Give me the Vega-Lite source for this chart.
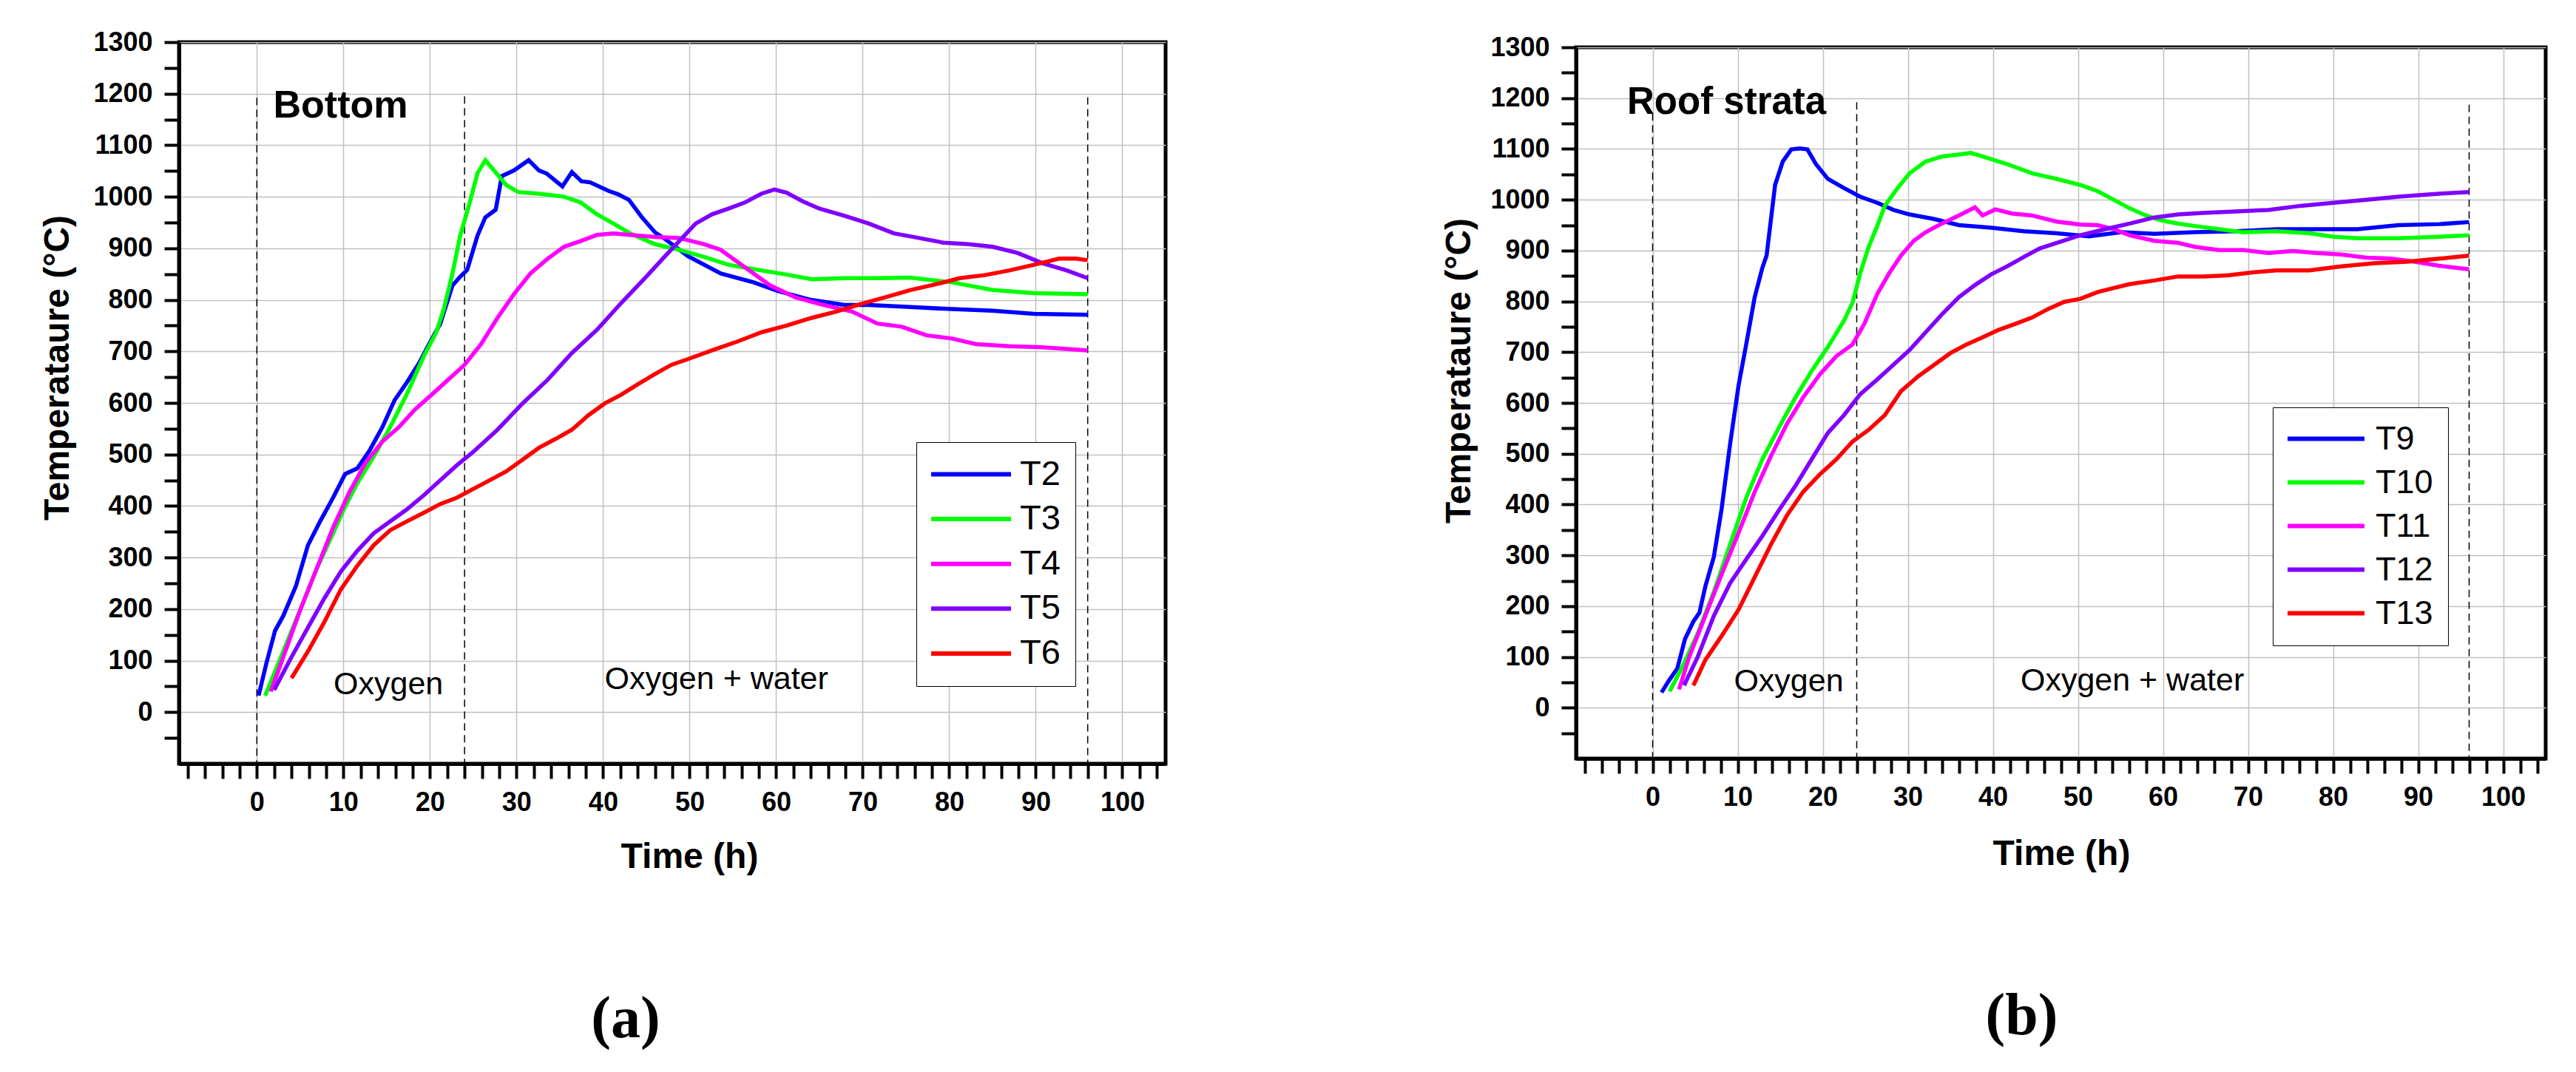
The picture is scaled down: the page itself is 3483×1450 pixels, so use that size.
{
"$schema":"https://vega.github.io/schema/vega-lite/v6.json",
"padding":{"left":51,"top":36,"right":5,"bottom":5},
"background":"white",
"config":{"font":"Liberation Sans","view":{"stroke":"black","strokeWidth":5},
"legend":{"strokeColor":"black","fillColor":"white"},
"axis":{"domainColor":"black","domainWidth":5,"tickColor":"black","tickWidth":4,"tickSize":20,"labelFont":"Liberation Sans","labelFontSize":36,"labelFontWeight":"bold","labelColor":"black","titleFont":"Liberation Sans","titleFontSize":48,"titleFontWeight":"bold","titleColor":"black","gridColor":"#c0c0c0","gridWidth":1.5,"labelFlush":false,"labelOverlap":false}},
"resolve":{"scale":{"color":"independent"}},
"spacing":555,
"bounds":"flush",
"center":true,
"datasets":{
"a":[
{"s":"T2","t":0.2,"v":32},{"s":"T2","t":1.1,"v":95},{"s":"T2","t":2.1,"v":158},{"s":"T2","t":3.05,"v":187},{"s":"T2","t":4.5,"v":244},{"s":"T2","t":5.9,"v":324},{"s":"T2","t":7.3,"v":370},{"s":"T2","t":8.8,"v":416},{"s":"T2","t":10.2,"v":462},{"s":"T2","t":11.6,"v":473},{"s":"T2","t":13,"v":507},{"s":"T2","t":14.5,"v":553},{"s":"T2","t":15.9,"v":605},{"s":"T2","t":17.3,"v":639},{"s":"T2","t":18.8,"v":679},{"s":"T2","t":19.7,"v":708},{"s":"T2","t":21.2,"v":754},{"s":"T2","t":22.6,"v":828},{"s":"T2","t":23.5,"v":845},{"s":"T2","t":24.3,"v":858},{"s":"T2","t":25.5,"v":925},{"s":"T2","t":26.4,"v":960},{"s":"T2","t":27.6,"v":975},{"s":"T2","t":28.3,"v":1040},{"s":"T2","t":29.7,"v":1051},{"s":"T2","t":31.4,"v":1071},{"s":"T2","t":32.6,"v":1051},{"s":"T2","t":33.5,"v":1045},{"s":"T2","t":35.3,"v":1020},{"s":"T2","t":36.4,"v":1048},{"s":"T2","t":37.5,"v":1030},{"s":"T2","t":38.5,"v":1028},{"s":"T2","t":40.7,"v":1011},{"s":"T2","t":41.7,"v":1005},{"s":"T2","t":43,"v":994},{"s":"T2","t":44.5,"v":960},{"s":"T2","t":46,"v":931},{"s":"T2","t":47,"v":920},{"s":"T2","t":49.8,"v":885},{"s":"T2","t":53.6,"v":851},{"s":"T2","t":57.4,"v":834},{"s":"T2","t":60.2,"v":817},{"s":"T2","t":64,"v":800},{"s":"T2","t":67.9,"v":790},{"s":"T2","t":70.7,"v":790},{"s":"T2","t":75.5,"v":786},{"s":"T2","t":80.3,"v":782},{"s":"T2","t":85,"v":779},{"s":"T2","t":89.8,"v":773},{"s":"T2","t":96,"v":771},
{"s":"T3","t":0.95,"v":32},{"s":"T3","t":3.05,"v":118},{"s":"T3","t":5,"v":198},{"s":"T3","t":6.9,"v":278},{"s":"T3","t":8.8,"v":347},{"s":"T3","t":10.2,"v":399},{"s":"T3","t":11.6,"v":444},{"s":"T3","t":13.5,"v":496},{"s":"T3","t":15.4,"v":553},{"s":"T3","t":17.3,"v":616},{"s":"T3","t":19.3,"v":691},{"s":"T3","t":20.7,"v":736},{"s":"T3","t":21.6,"v":782},{"s":"T3","t":22.6,"v":851},{"s":"T3","t":23.5,"v":925},{"s":"T3","t":24.5,"v":983},{"s":"T3","t":25.5,"v":1046},{"s":"T3","t":26.4,"v":1071},{"s":"T3","t":27.4,"v":1051},{"s":"T3","t":28.8,"v":1023},{"s":"T3","t":30.2,"v":1009},{"s":"T3","t":32.6,"v":1006},{"s":"T3","t":35.5,"v":1000},{"s":"T3","t":37.4,"v":989},{"s":"T3","t":39.3,"v":966},{"s":"T3","t":41.2,"v":948},{"s":"T3","t":43.1,"v":929},{"s":"T3","t":46,"v":908},{"s":"T3","t":48.8,"v":897},{"s":"T3","t":51.7,"v":883},{"s":"T3","t":54.5,"v":868},{"s":"T3","t":58.3,"v":857},{"s":"T3","t":61.2,"v":849},{"s":"T3","t":64.1,"v":840},{"s":"T3","t":67.9,"v":842},{"s":"T3","t":71.7,"v":842},{"s":"T3","t":75.5,"v":843},{"s":"T3","t":80.3,"v":834},{"s":"T3","t":85,"v":819},{"s":"T3","t":89.8,"v":813},{"s":"T3","t":96,"v":811},
{"s":"T4","t":1.6,"v":40},{"s":"T4","t":3.05,"v":107},{"s":"T4","t":5,"v":198},{"s":"T4","t":6.9,"v":278},{"s":"T4","t":8.8,"v":358},{"s":"T4","t":10.7,"v":427},{"s":"T4","t":12.6,"v":485},{"s":"T4","t":14.5,"v":525},{"s":"T4","t":16.4,"v":553},{"s":"T4","t":18.3,"v":588},{"s":"T4","t":20.2,"v":616},{"s":"T4","t":22.1,"v":645},{"s":"T4","t":24,"v":674},{"s":"T4","t":25.9,"v":714},{"s":"T4","t":27.8,"v":765},{"s":"T4","t":29.7,"v":811},{"s":"T4","t":31.6,"v":851},{"s":"T4","t":33.6,"v":880},{"s":"T4","t":35.5,"v":903},{"s":"T4","t":37.4,"v":914},{"s":"T4","t":39.3,"v":926},{"s":"T4","t":41.2,"v":929},{"s":"T4","t":43.1,"v":926},{"s":"T4","t":46,"v":922},{"s":"T4","t":48.8,"v":920},{"s":"T4","t":51.7,"v":908},{"s":"T4","t":53.6,"v":897},{"s":"T4","t":55.5,"v":874},{"s":"T4","t":57.4,"v":851},{"s":"T4","t":59.3,"v":828},{"s":"T4","t":62.2,"v":805},{"s":"T4","t":65,"v":792},{"s":"T4","t":68.8,"v":777},{"s":"T4","t":71.7,"v":754},{"s":"T4","t":74.5,"v":748},{"s":"T4","t":77.4,"v":731},{"s":"T4","t":80.3,"v":725},{"s":"T4","t":83.1,"v":714},{"s":"T4","t":86.9,"v":710},{"s":"T4","t":90.8,"v":708},{"s":"T4","t":96,"v":702},
{"s":"T5","t":2,"v":43},{"s":"T5","t":4,"v":107},{"s":"T5","t":5.9,"v":164},{"s":"T5","t":7.8,"v":221},{"s":"T5","t":9.7,"v":273},{"s":"T5","t":11.6,"v":313},{"s":"T5","t":13.5,"v":347},{"s":"T5","t":15.4,"v":370},{"s":"T5","t":17.3,"v":393},{"s":"T5","t":19.3,"v":421},{"s":"T5","t":21.2,"v":450},{"s":"T5","t":23.1,"v":479},{"s":"T5","t":25,"v":505},{"s":"T5","t":27.8,"v":548},{"s":"T5","t":30.7,"v":599},{"s":"T5","t":33.6,"v":645},{"s":"T5","t":36.4,"v":697},{"s":"T5","t":39.3,"v":742},{"s":"T5","t":42.1,"v":794},{"s":"T5","t":45,"v":845},{"s":"T5","t":46.9,"v":880},{"s":"T5","t":48.8,"v":914},{"s":"T5","t":50.7,"v":948},{"s":"T5","t":52.6,"v":966},{"s":"T5","t":54.5,"v":977},{"s":"T5","t":56.4,"v":989},{"s":"T5","t":58.3,"v":1006},{"s":"T5","t":59.8,"v":1014},{"s":"T5","t":61.2,"v":1008},{"s":"T5","t":63.1,"v":991},{"s":"T5","t":65,"v":977},{"s":"T5","t":67.9,"v":963},{"s":"T5","t":70.7,"v":948},{"s":"T5","t":73.6,"v":929},{"s":"T5","t":76.5,"v":920},{"s":"T5","t":79.3,"v":911},{"s":"T5","t":82.2,"v":908},{"s":"T5","t":85,"v":903},{"s":"T5","t":87.9,"v":891},{"s":"T5","t":90.8,"v":871},{"s":"T5","t":93.6,"v":857},{"s":"T5","t":96,"v":842},
{"s":"T6","t":4,"v":66},{"s":"T6","t":5.9,"v":118},{"s":"T6","t":7.8,"v":175},{"s":"T6","t":9.7,"v":238},{"s":"T6","t":11.6,"v":284},{"s":"T6","t":13.5,"v":324},{"s":"T6","t":15.4,"v":353},{"s":"T6","t":17.3,"v":370},{"s":"T6","t":19.3,"v":387},{"s":"T6","t":21.2,"v":404},{"s":"T6","t":23.1,"v":416},{"s":"T6","t":25,"v":433},{"s":"T6","t":26.9,"v":450},{"s":"T6","t":28.8,"v":467},{"s":"T6","t":30.7,"v":490},{"s":"T6","t":32.6,"v":513},{"s":"T6","t":34.5,"v":530},{"s":"T6","t":36.4,"v":548},{"s":"T6","t":38.3,"v":576},{"s":"T6","t":40.2,"v":599},{"s":"T6","t":42.1,"v":616},{"s":"T6","t":44,"v":636},{"s":"T6","t":46,"v":656},{"s":"T6","t":47.9,"v":674},{"s":"T6","t":49.8,"v":685},{"s":"T6","t":52.6,"v":702},{"s":"T6","t":55.5,"v":719},{"s":"T6","t":58.3,"v":737},{"s":"T6","t":61.2,"v":750},{"s":"T6","t":64.1,"v":765},{"s":"T6","t":66.9,"v":777},{"s":"T6","t":69.8,"v":792},{"s":"T6","t":72.6,"v":805},{"s":"T6","t":75.5,"v":819},{"s":"T6","t":78.4,"v":830},{"s":"T6","t":81.2,"v":842},{"s":"T6","t":84.1,"v":848},{"s":"T6","t":86.9,"v":857},{"s":"T6","t":89.8,"v":868},{"s":"T6","t":92.7,"v":880},{"s":"T6","t":94.6,"v":880},{"s":"T6","t":96,"v":877}
],
"b":[
{"s":"T9","t":1.05,"v":30},{"s":"T9","t":1.9,"v":53},{"s":"T9","t":2.9,"v":77},{"s":"T9","t":3.8,"v":135},{"s":"T9","t":4.8,"v":170},{"s":"T9","t":5.5,"v":187},{"s":"T9","t":6.2,"v":239},{"s":"T9","t":7.2,"v":297},{"s":"T9","t":8.1,"v":390},{"s":"T9","t":9.1,"v":518},{"s":"T9","t":10.1,"v":634},{"s":"T9","t":11,"v":715},{"s":"T9","t":12,"v":808},{"s":"T9","t":12.9,"v":866},{"s":"T9","t":13.4,"v":890},{"s":"T9","t":14.4,"v":1029},{"s":"T9","t":15.3,"v":1075},{"s":"T9","t":16.3,"v":1099},{"s":"T9","t":17.3,"v":1101},{"s":"T9","t":18.2,"v":1099},{"s":"T9","t":19.2,"v":1070},{"s":"T9","t":20.6,"v":1041},{"s":"T9","t":22.5,"v":1023},{"s":"T9","t":24.4,"v":1006},{"s":"T9","t":26.4,"v":994},{"s":"T9","t":28.3,"v":980},{"s":"T9","t":30.2,"v":971},{"s":"T9","t":33.1,"v":962},{"s":"T9","t":36,"v":950},{"s":"T9","t":39.8,"v":945},{"s":"T9","t":43.6,"v":938},{"s":"T9","t":47.5,"v":934},{"s":"T9","t":51.3,"v":928},{"s":"T9","t":55.1,"v":936},{"s":"T9","t":59,"v":933},{"s":"T9","t":63.8,"v":936},{"s":"T9","t":68.6,"v":938},{"s":"T9","t":73.3,"v":942},{"s":"T9","t":78.1,"v":942},{"s":"T9","t":82.9,"v":942},{"s":"T9","t":87.7,"v":950},{"s":"T9","t":92.5,"v":952},{"s":"T9","t":96,"v":956},
{"s":"T10","t":2,"v":32},{"s":"T10","t":3.4,"v":77},{"s":"T10","t":5.3,"v":146},{"s":"T10","t":7.2,"v":228},{"s":"T10","t":9.1,"v":321},{"s":"T10","t":11,"v":413},{"s":"T10","t":12.9,"v":489},{"s":"T10","t":14.9,"v":553},{"s":"T10","t":16.8,"v":611},{"s":"T10","t":18.7,"v":663},{"s":"T10","t":20.6,"v":710},{"s":"T10","t":22.5,"v":762},{"s":"T10","t":23.5,"v":797},{"s":"T10","t":24.4,"v":855},{"s":"T10","t":25.4,"v":907},{"s":"T10","t":26.4,"v":948},{"s":"T10","t":27.3,"v":988},{"s":"T10","t":28.8,"v":1023},{"s":"T10","t":30.2,"v":1052},{"s":"T10","t":32.1,"v":1075},{"s":"T10","t":34,"v":1085},{"s":"T10","t":36,"v":1089},{"s":"T10","t":37.4,"v":1092},{"s":"T10","t":38.8,"v":1085},{"s":"T10","t":41.7,"v":1070},{"s":"T10","t":44.6,"v":1052},{"s":"T10","t":47.5,"v":1041},{"s":"T10","t":50.3,"v":1029},{"s":"T10","t":52.3,"v":1017},{"s":"T10","t":54.2,"v":1000},{"s":"T10","t":56.1,"v":983},{"s":"T10","t":58,"v":969},{"s":"T10","t":59.9,"v":959},{"s":"T10","t":61.8,"v":953},{"s":"T10","t":63.8,"v":948},{"s":"T10","t":66.6,"v":942},{"s":"T10","t":69.5,"v":936},{"s":"T10","t":73.3,"v":938},{"s":"T10","t":77.2,"v":934},{"s":"T10","t":80.1,"v":927},{"s":"T10","t":82.9,"v":924},{"s":"T10","t":87.7,"v":924},{"s":"T10","t":92.5,"v":927},{"s":"T10","t":96,"v":930},
{"s":"T11","t":3.1,"v":36},{"s":"T11","t":4.3,"v":100},{"s":"T11","t":6.2,"v":181},{"s":"T11","t":8.1,"v":262},{"s":"T11","t":10.1,"v":344},{"s":"T11","t":12,"v":425},{"s":"T11","t":13.9,"v":495},{"s":"T11","t":15.8,"v":559},{"s":"T11","t":17.7,"v":611},{"s":"T11","t":19.7,"v":657},{"s":"T11","t":21.6,"v":692},{"s":"T11","t":23.5,"v":715},{"s":"T11","t":24.9,"v":756},{"s":"T11","t":26.4,"v":814},{"s":"T11","t":27.8,"v":855},{"s":"T11","t":29.2,"v":890},{"s":"T11","t":30.7,"v":919},{"s":"T11","t":32.1,"v":936},{"s":"T11","t":34,"v":953},{"s":"T11","t":36,"v":969},{"s":"T11","t":37.9,"v":985},{"s":"T11","t":38.8,"v":969},{"s":"T11","t":40.3,"v":981},{"s":"T11","t":42.2,"v":973},{"s":"T11","t":44.6,"v":969},{"s":"T11","t":47.5,"v":957},{"s":"T11","t":50.3,"v":951},{"s":"T11","t":52.3,"v":950},{"s":"T11","t":54.2,"v":942},{"s":"T11","t":56.1,"v":930},{"s":"T11","t":59,"v":919},{"s":"T11","t":61.8,"v":915},{"s":"T11","t":63.8,"v":907},{"s":"T11","t":66.6,"v":901},{"s":"T11","t":69.5,"v":901},{"s":"T11","t":72.4,"v":895},{"s":"T11","t":75.3,"v":899},{"s":"T11","t":78.1,"v":895},{"s":"T11","t":81,"v":892},{"s":"T11","t":83.9,"v":886},{"s":"T11","t":86.8,"v":884},{"s":"T11","t":89.6,"v":878},{"s":"T11","t":92.5,"v":870},{"s":"T11","t":96,"v":863},
{"s":"T12","t":3.7,"v":44},{"s":"T12","t":5.3,"v":100},{"s":"T12","t":7.2,"v":181},{"s":"T12","t":9.1,"v":245},{"s":"T12","t":11,"v":292},{"s":"T12","t":12.9,"v":338},{"s":"T12","t":14.9,"v":390},{"s":"T12","t":16.8,"v":437},{"s":"T12","t":18.7,"v":489},{"s":"T12","t":20.6,"v":541},{"s":"T12","t":22.5,"v":576},{"s":"T12","t":24.4,"v":617},{"s":"T12","t":26.4,"v":646},{"s":"T12","t":28.3,"v":675},{"s":"T12","t":30.2,"v":704},{"s":"T12","t":32.1,"v":739},{"s":"T12","t":34,"v":774},{"s":"T12","t":36,"v":808},{"s":"T12","t":37.9,"v":832},{"s":"T12","t":39.8,"v":853},{"s":"T12","t":41.7,"v":869},{"s":"T12","t":43.6,"v":887},{"s":"T12","t":45.5,"v":904},{"s":"T12","t":47.5,"v":915},{"s":"T12","t":50.3,"v":930},{"s":"T12","t":53.2,"v":942},{"s":"T12","t":56.1,"v":953},{"s":"T12","t":59,"v":965},{"s":"T12","t":61.8,"v":971},{"s":"T12","t":64.7,"v":974},{"s":"T12","t":68.6,"v":977},{"s":"T12","t":72.4,"v":980},{"s":"T12","t":76.2,"v":988},{"s":"T12","t":80.1,"v":994},{"s":"T12","t":83.9,"v":1000},{"s":"T12","t":87.7,"v":1006},{"s":"T12","t":92.5,"v":1012},{"s":"T12","t":96,"v":1015},
{"s":"T13","t":4.8,"v":44},{"s":"T13","t":6.2,"v":94},{"s":"T13","t":8.1,"v":141},{"s":"T13","t":10.1,"v":193},{"s":"T13","t":12,"v":257},{"s":"T13","t":13.9,"v":321},{"s":"T13","t":15.8,"v":379},{"s":"T13","t":17.7,"v":425},{"s":"T13","t":19.7,"v":460},{"s":"T13","t":21.6,"v":489},{"s":"T13","t":23.5,"v":524},{"s":"T13","t":25.4,"v":547},{"s":"T13","t":27.3,"v":576},{"s":"T13","t":29.2,"v":623},{"s":"T13","t":31.2,"v":652},{"s":"T13","t":33.1,"v":675},{"s":"T13","t":35,"v":698},{"s":"T13","t":36.9,"v":715},{"s":"T13","t":38.8,"v":729},{"s":"T13","t":40.7,"v":744},{"s":"T13","t":42.7,"v":756},{"s":"T13","t":44.6,"v":768},{"s":"T13","t":46.5,"v":785},{"s":"T13","t":48.4,"v":799},{"s":"T13","t":50.3,"v":805},{"s":"T13","t":52.3,"v":818},{"s":"T13","t":54.2,"v":826},{"s":"T13","t":56.1,"v":834},{"s":"T13","t":59,"v":841},{"s":"T13","t":61.8,"v":849},{"s":"T13","t":64.7,"v":849},{"s":"T13","t":67.6,"v":851},{"s":"T13","t":70.5,"v":857},{"s":"T13","t":73.3,"v":861},{"s":"T13","t":77.2,"v":861},{"s":"T13","t":81,"v":869},{"s":"T13","t":84.9,"v":875},{"s":"T13","t":88.7,"v":878},{"s":"T13","t":92.5,"v":884},{"s":"T13","t":96,"v":890}
],
"aRule":[{"t":0,"v":1192},{"t":24,"v":1195},{"t":96,"v":1193}],
"bRule":[{"t":0,"v":1170},{"t":24,"v":1192},{"t":96,"v":1187}],
"aBold":[{"t":1.9,"v":1154,"label":"Bottom"}],
"bBold":[{"t":-3,"v":1169,"label":"Roof strata"}],
"aText":[{"t":15.2,"v":35,"label":"Oxygen"},{"t":53.1,"v":45,"label":"Oxygen + water"}],
"bText":[{"t":16.0,"v":32,"label":"Oxygen"},{"t":56.4,"v":34,"label":"Oxygen + water"}]
},
"hconcat":[
{
"width":1334,"height":976,
"title":{"text":"(a)","orient":"bottom","frame":"group","anchor":"middle","dx":-63,"offset":220,"baseline":"alphabetic","font":"Liberation Serif","fontSize":80,"fontWeight":"bold","color":"black"},
"encoding":{
"x":{"field":"t","type":"quantitative","scale":{"domain":[-9,105],"nice":false,"zero":false},
"axis":{"title":"Time (h)","values":[-8,-6,-4,-2,0,2,4,6,8,10,12,14,16,18,20,22,24,26,28,30,32,34,36,38,40,42,44,46,48,50,52,54,56,58,60,62,64,66,68,70,72,74,76,78,80,82,84,86,88,90,92,94,96,98,100,102,104],"format":"d","labelExpr":"datum.value % 10 === 0 ? datum.label : ''","labelPadding":15,"gridOpacity":{"condition":{"test":"datum.value % 10 === 0","value":1},"value":0},"encode":{"ticks":{"update":{"y2":{"signal":"datum.value % 10 === 0 ? 20 : 10"}}}},"titleX":690,"titleY":140,"titleBaseline":"alphabetic","titleAlign":"center"}},
"y":{"field":"v","type":"quantitative","scale":{"domain":[-100,1300],"nice":false,"zero":false},
"axis":{"title":"Temperataure (°C)","values":[-50,0,50,100,150,200,250,300,350,400,450,500,550,600,650,700,750,800,850,900,950,1000,1050,1100,1150,1200,1250,1300],"format":"d","labelExpr":"datum.value % 100 === 0 ? datum.label : ''","labelPadding":16,"gridOpacity":{"condition":{"test":"datum.value % 100 === 0","value":1},"value":0},"encode":{"ticks":{"update":{"x2":{"signal":"datum.value % 100 === 0 ? -20 : -10"}}}},"titleX":-150,"titleY":440,"titleAngle":-90,"titleBaseline":"alphabetic","titleAlign":"center"}}
},
"layer":[
{"data":{"name":"aRule"},"mark":{"type":"rule","color":"black","strokeWidth":1.5,"strokeDash":[10,6]},"encoding":{"y2":{"datum":-100}}},
{"data":{"name":"a"},"mark":{"type":"line","strokeWidth":5.5},
"encoding":{"color":{"field":"s","type":"nominal","scale":{"domain":["T2","T3","T4","T5","T6"],"range":["#0000ff","#00ff00","#ff00ff","#8000ff","#ff0000"]},
"legend":{"title":null,"orient":"none","legendX":997,"legendY":541,"symbolType":"stroke","symbolSize":12100,"symbolStrokeWidth":6,"symbolOffset":-5,"labelFont":"Liberation Sans","labelFontSize":47,"labelColor":"black","labelOffset":9,"padding":20,"rowPadding":12.6,"clipHeight":47}}}},
{"data":{"name":"aBold"},"mark":{"type":"text","font":"Liberation Sans","fontWeight":"bold","fontSize":52,"align":"left","baseline":"alphabetic","color":"black"},"encoding":{"text":{"field":"label"}}},
{"data":{"name":"aText"},"mark":{"type":"text","font":"Liberation Sans","fontSize":43,"align":"center","baseline":"alphabetic","color":"black"},"encoding":{"text":{"field":"label"}}}
]
},
{
"width":1311,"height":962,
"title":{"text":"(b)","orient":"bottom","frame":"group","anchor":"middle","dx":-53,"offset":220,"baseline":"alphabetic","font":"Liberation Serif","fontSize":80,"fontWeight":"bold","color":"black"},
"encoding":{
"x":{"field":"t","type":"quantitative","scale":{"domain":[-9,105],"nice":false,"zero":false},
"axis":{"title":"Time (h)","values":[-8,-6,-4,-2,0,2,4,6,8,10,12,14,16,18,20,22,24,26,28,30,32,34,36,38,40,42,44,46,48,50,52,54,56,58,60,62,64,66,68,70,72,74,76,78,80,82,84,86,88,90,92,94,96,98,100,102,104],"format":"d","labelExpr":"datum.value % 10 === 0 ? datum.label : ''","labelPadding":15,"gridOpacity":{"condition":{"test":"datum.value % 10 === 0","value":1},"value":0},"encode":{"ticks":{"update":{"y2":{"signal":"datum.value % 10 === 0 ? 20 : 10"}}}},"titleX":656,"titleY":143,"titleBaseline":"alphabetic","titleAlign":"center"}},
"y":{"field":"v","type":"quantitative","scale":{"domain":[-100,1300],"nice":false,"zero":false},
"axis":{"title":"Temperataure (°C)","values":[-50,0,50,100,150,200,250,300,350,400,450,500,550,600,650,700,750,800,850,900,950,1000,1050,1100,1150,1200,1250,1300],"format":"d","labelExpr":"datum.value % 100 === 0 ? datum.label : ''","labelPadding":16,"gridOpacity":{"condition":{"test":"datum.value % 100 === 0","value":1},"value":0},"encode":{"ticks":{"update":{"x2":{"signal":"datum.value % 100 === 0 ? -20 : -10"}}}},"titleX":-144,"titleY":437,"titleAngle":-90,"titleBaseline":"alphabetic","titleAlign":"center"}}
},
"layer":[
{"data":{"name":"bRule"},"mark":{"type":"rule","color":"black","strokeWidth":1.5,"strokeDash":[10,6]},"encoding":{"y2":{"datum":-100}}},
{"data":{"name":"b"},"mark":{"type":"line","strokeWidth":5.5},
"encoding":{"color":{"field":"s","type":"nominal","scale":{"domain":["T9","T10","T11","T12","T13"],"range":["#0000ff","#00ff00","#ff00ff","#8000ff","#ff0000"]},
"legend":{"title":null,"orient":"none","legendX":942,"legendY":487,"symbolType":"stroke","symbolSize":11236,"symbolStrokeWidth":6,"symbolOffset":-5,"labelFont":"Liberation Sans","labelFontSize":45,"labelColor":"black","labelOffset":12,"padding":20,"rowPadding":13,"clipHeight":45}}}},
{"data":{"name":"bBold"},"mark":{"type":"text","font":"Liberation Sans","fontWeight":"bold","fontSize":51,"align":"left","baseline":"alphabetic","color":"black"},"encoding":{"text":{"field":"label"}}},
{"data":{"name":"bText"},"mark":{"type":"text","font":"Liberation Sans","fontSize":43,"align":"center","baseline":"alphabetic","color":"black"},"encoding":{"text":{"field":"label"}}}
]
}
]
}
